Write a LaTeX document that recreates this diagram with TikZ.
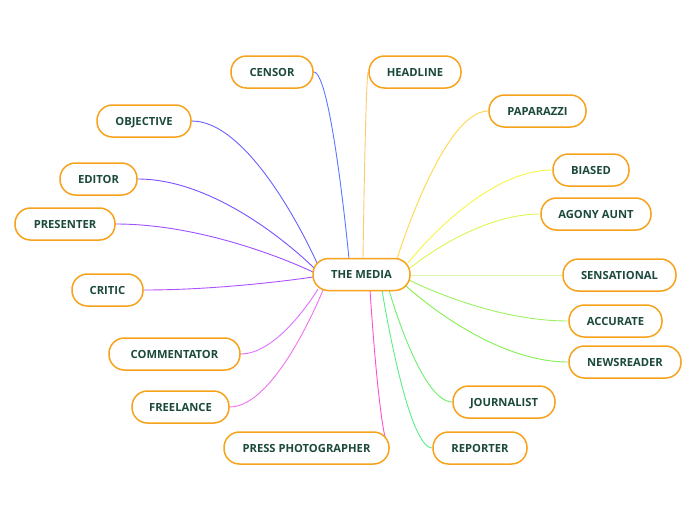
\documentclass[tikz,border=0pt]{standalone}
\usepackage{fontspec}
\setmainfont{Open Sans}
\usetikzlibrary{calc,backgrounds}
\definecolor{nodeborder}{HTML}{F7A21B}
\definecolor{nodetext}{HTML}{1B4A3C}
\definecolor{cCen}{HTML}{5A78FF}
\definecolor{cHl}{HTML}{FFC870}
\definecolor{cPap}{HTML}{FFD84A}
\definecolor{cBia}{HTML}{F5F545}
\definecolor{cAg}{HTML}{DDF550}
\definecolor{cSen}{HTML}{C4F57A}
\definecolor{cAcc}{HTML}{9EF060}
\definecolor{cNw}{HTML}{84F050}
\definecolor{cJo}{HTML}{6AF06A}
\definecolor{cRep}{HTML}{58F088}
\definecolor{cPp}{HTML}{FF4FD0}
\definecolor{cFr}{HTML}{F070F0}
\definecolor{cCom}{HTML}{E070FF}
\definecolor{cCri}{HTML}{B050FF}
\definecolor{cPre}{HTML}{A050FF}
\definecolor{cEd}{HTML}{7A50FF}
\definecolor{cObj}{HTML}{6A60FF}
\tikzset{
  box/.style={draw=nodeborder, line width=1.5pt, fill=white, rounded corners=15.5pt,
    minimum height=32pt, inner xsep=2pt, inner ysep=0pt, text height=8pt, text depth=0pt,
    text=nodetext, font=\fontsize{11.2}{13}\selectfont\bfseries},
  link/.style={line width=0.9pt}
}
\newcommand\medge[3]{\draw[link,#1] let \p1=(#2), \p2=(#3) in (\p2) .. controls ({(\x1+\x2)/2},\y2) and (\p1) .. (\p1);}
\begin{document}
\begin{tikzpicture}[x=1pt,y=-1pt]
\useasboundingbox (0,0) rectangle (696,520);
\node[box, minimum width=97pt] (m) at (361.5,274.5) {THE MEDIA};
\node[box, minimum width=82pt] (cen) at (272,72) {CENSOR};
\node[box, minimum width=92pt] (hl) at (415,72) {HEADLINE};
\node[box, minimum width=94pt] (obj) at (144,121) {OBJECTIVE};
\node[box, minimum width=97pt] (pap) at (537.5,111) {PAPARAZZI};
\node[box, minimum width=77pt] (ed) at (98.5,179) {EDITOR};
\node[box, minimum width=76pt] (bia) at (591,170) {BIASED};
\node[box, minimum width=110pt] (ag) at (596,214) {AGONY AUNT};
\node[box, minimum width=100pt] (pre) at (65,224) {PRESENTER};
\node[box, minimum width=113pt] (sen) at (619.5,275) {SENSATIONAL};
\node[box, minimum width=71pt] (cri) at (107.5,290) {CRITIC};
\node[box, minimum width=93pt] (acc) at (615.5,321) {ACCURATE};
\node[box, minimum width=131pt] (com) at (174.5,354) {COMMENTATOR};
\node[box, minimum width=112pt] (nw) at (625,362) {NEWSREADER};
\node[box, minimum width=97pt] (fr) at (180.5,407) {FREELANCE};
\node[box, minimum width=102pt] (jo) at (504,402) {JOURNALIST};
\node[box, minimum width=165pt] (pp) at (306.5,448) {PRESS PHOTOGRAPHER};
\node[box, minimum width=94pt] (rep) at (480,448) {REPORTER};
\coordinate (sCen) at (349,259);
\coordinate (sHl) at (363,259);
\coordinate (sPap) at (397,259);
\coordinate (sBia) at (408,263);
\coordinate (sAg) at (410,268);
\coordinate (sSen) at (410,275);
\coordinate (sAcc) at (409,280);
\coordinate (sNw) at (405,285);
\coordinate (sJo) at (389,290);
\coordinate (sRep) at (382,290);
\coordinate (sPp) at (370,290);
\coordinate (sCom) at (318,289);
\coordinate (sFr) at (323,290);
\coordinate (sCri) at (313,277);
\coordinate (sPre) at (313,272);
\coordinate (sEd) at (314,268);
\coordinate (sObj) at (317,263);
\begin{pgfonlayer}{background}
\medge{cCen}{sCen}{cen.east}
\medge{cHl}{sHl}{hl.west}
\medge{cPap}{sPap}{pap.west}
\medge{cBia}{sBia}{bia.west}
\medge{cAg}{sAg}{ag.west}
\medge{cSen}{sSen}{sen.west}
\medge{cAcc}{sAcc}{acc.west}
\medge{cNw}{sNw}{nw.west}
\medge{cJo}{sJo}{jo.west}
\medge{cRep}{sRep}{rep.west}
\medge{cPp}{sPp}{pp.east}
\medge{cCom}{sCom}{com.east}
\medge{cFr}{sFr}{fr.east}
\medge{cCri}{sCri}{cri.east}
\medge{cPre}{sPre}{pre.east}
\medge{cEd}{sEd}{ed.east}
\medge{cObj}{sObj}{obj.east}
\end{pgfonlayer}
\end{tikzpicture}
\end{document}
